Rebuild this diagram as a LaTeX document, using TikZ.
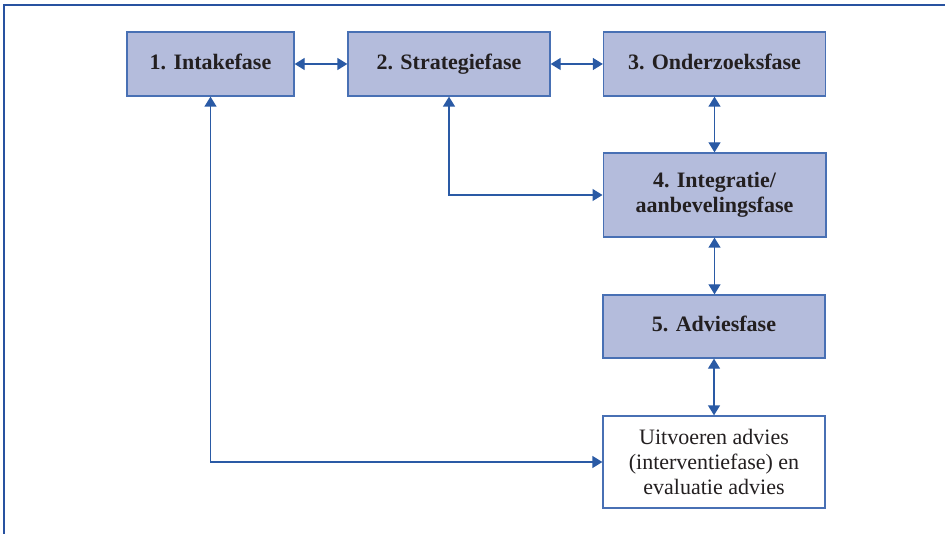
\documentclass[tikz,border=0pt]{standalone}
\usepackage{fontspec}
\setmainfont{Liberation Serif}
\usetikzlibrary{arrows.meta}

\definecolor{fasevul}{RGB}{180,188,220}
\definecolor{faserand}{RGB}{72,112,180}
\definecolor{pijlblauw}{RGB}{42,90,165}
\definecolor{kaderblauw}{RGB}{40,82,160}
\definecolor{tekstzwart}{RGB}{35,31,32}

\tikzset{every picture/.style={line width=0.75pt}}
\tikzset{
  fase/.style={draw=faserand, fill=fasevul, line width=1pt, inner sep=0pt, align=center,
    text=tekstzwart, font=\fontsize{16.5pt}{19pt}\selectfont\bfseries},
  eenregel/.style={text height=11.5pt, text depth=3.5pt},
  eindfase/.style={draw=faserand, fill=white, line width=1pt, inner sep=0pt, align=center,
    text=tekstzwart, font=\fontsize{16.5pt}{19pt}\selectfont},
  pijl/.style={draw=pijlblauw, line width=1pt, {Triangle[length=7.5pt,width=9pt]}-{Triangle[length=7.5pt,width=9pt]}}
}

\begin{document}
\begin{tikzpicture}[x=0.75pt,y=0.75pt,yscale=-1,xscale=1]
\useasboundingbox (0,0) rectangle (945,534);

%Frame
\draw [kaderblauw, line width=1.5pt] (4,534) -- (4,5) -- (945,5) ;

%Phases
\node [fase, eenregel, minimum width=125.25pt, minimum height=48pt] (intake) at (210.5,64) {1. Intakefase};
\node [fase, eenregel, minimum width=151.5pt, minimum height=48pt] (strategie) at (449,64) {2. Strategiefase};
\node [fase, eenregel, minimum width=166.5pt, minimum height=48pt] (onderzoek) at (714.5,64) {3. Onderzoeksfase};
\node [fase, minimum width=167pt, minimum height=63pt] (integratie) at (714.5,195) {4. Integratie/\\aanbevelingsfase};
\node [fase, eenregel, minimum width=166.5pt, minimum height=47.25pt] (advies) at (714,326.5) {5. Adviesfase};
\node [eindfase, minimum width=166.5pt, minimum height=69pt] (uitvoeren) at (714,462) {Uitvoeren advies\\(interventiefase) en\\evaluatie advies};

%Connectors
\draw [pijl] (intake) -- (strategie) ;
\draw [pijl] (strategie) -- (onderzoek) ;
\draw [pijl] (onderzoek.south -| integratie.north) -- (integratie.north) ;
\draw [pijl] (integratie.south) -- (advies.north -| integratie.south) ;
\draw [pijl] (advies) -- (uitvoeren) ;
\draw [pijl] (integratie.west) -| (strategie.south) ;
\draw [pijl] (uitvoeren.west) -| (intake.south) ;

\end{tikzpicture}
\end{document}
